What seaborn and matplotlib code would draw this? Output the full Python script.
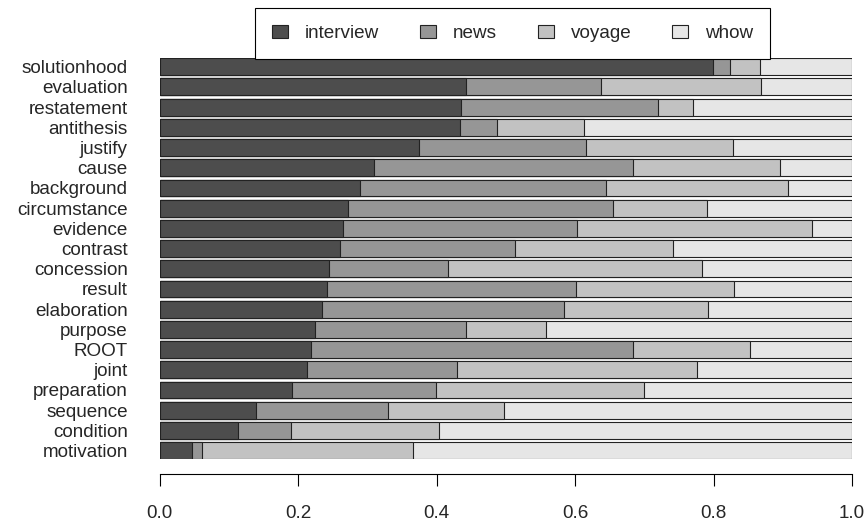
import matplotlib
matplotlib.use("Agg")
import matplotlib.pyplot as plt
from matplotlib.patches import Patch
import numpy as np
import pandas as pd
import seaborn as sns

# relations, top to bottom
relations = ["solutionhood", "evaluation", "restatement", "antithesis", "justify",
             "cause", "background", "circumstance", "evidence", "contrast",
             "concession", "result", "elaboration", "purpose", "ROOT",
             "joint", "preparation", "sequence", "condition", "motivation"]

interview = [0.799, 0.442, 0.435, 0.434, 0.374, 0.310, 0.289, 0.272, 0.265, 0.261,
             0.245, 0.242, 0.235, 0.225, 0.219, 0.213, 0.191, 0.139, 0.113, 0.047]
news      = [0.025, 0.196, 0.285, 0.053, 0.242, 0.374, 0.356, 0.383, 0.338, 0.252,
             0.171, 0.359, 0.349, 0.217, 0.465, 0.216, 0.208, 0.191, 0.077, 0.015]
voyage    = [0.043, 0.230, 0.051, 0.126, 0.212, 0.212, 0.262, 0.135, 0.339, 0.228,
             0.367, 0.228, 0.208, 0.116, 0.168, 0.347, 0.300, 0.167, 0.213, 0.304]
whow      = [0.133, 0.132, 0.229, 0.387, 0.172, 0.104, 0.093, 0.210, 0.058, 0.259,
             0.217, 0.171, 0.208, 0.442, 0.148, 0.224, 0.301, 0.503, 0.597, 0.634]

series = ["interview", "news", "voyage", "whow"]
colors = ["#4D4D4D", "#969696", "#C2C2C2", "#E6E6E6"]
xticks = [0.0, 0.2, 0.4, 0.6, 0.8, 1.0]

df = pd.DataFrame({"relation": relations, "interview": interview, "news": news,
                   "voyage": voyage, "whow": whow})
cum = df[series].cumsum(axis=1)
cum["relation"] = df["relation"]

sns.set_style("white")
plt.rcParams["font.family"] = ["Liberation Sans", "DejaVu Sans"]

fig = plt.figure(figsize=(8.66, 5.25), dpi=100)
ax = fig.add_axes([0.1842, 0.1257, 0.7997, 0.7633])

bar_w = 0.833
# draw stacked bars back to front: full cumulative first
for s, c in reversed(list(zip(series, colors))):
    sns.barplot(data=cum, x=s, y="relation", order=relations, orient="h",
                color=c, saturation=1, width=bar_w, errorbar=None,
                edgecolor="#222222", linewidth=0.8, ax=ax)

ax.set_xlim(0, 1)
ax.set_ylim(len(relations) - 1 + bar_w / 2, -bar_w / 2)
ax.set_xticks(xticks)
ax.set_xticklabels([f"{t:.1f}" for t in xticks])
ax.set_xlabel("")
ax.set_ylabel("")
ax.tick_params(axis="x", direction="out", length=8.6, width=0.8, color="black",
               labelsize=13.6, pad=13.3, bottom=True)
ax.tick_params(axis="y", length=0, labelsize=13.6, pad=22.9)
sns.despine(ax=ax, left=True, offset={"bottom": 11}, trim=False)
ax.spines["bottom"].set_bounds(0, 1)
ax.spines["bottom"].set_linewidth(0.8)
ax.spines["bottom"].set_color("black")

handles = [Patch(facecolor=c, edgecolor="#222222", linewidth=0.8) for c in colors]
fig.legend(handles, series, loc="upper left",
           bbox_to_anchor=(255.3 / 866, 1 - 8.3 / 525), borderaxespad=0,
           ncol=4, fontsize=13.6, frameon=True, fancybox=False, framealpha=1,
           edgecolor="black", borderpad=0.88, handlelength=0.85, handleheight=0.65,
           handletextpad=0.9, columnspacing=2.15)
fig.legends[0].get_frame().set_linewidth(0.8)

fig.savefig("out.png", dpi=100)
